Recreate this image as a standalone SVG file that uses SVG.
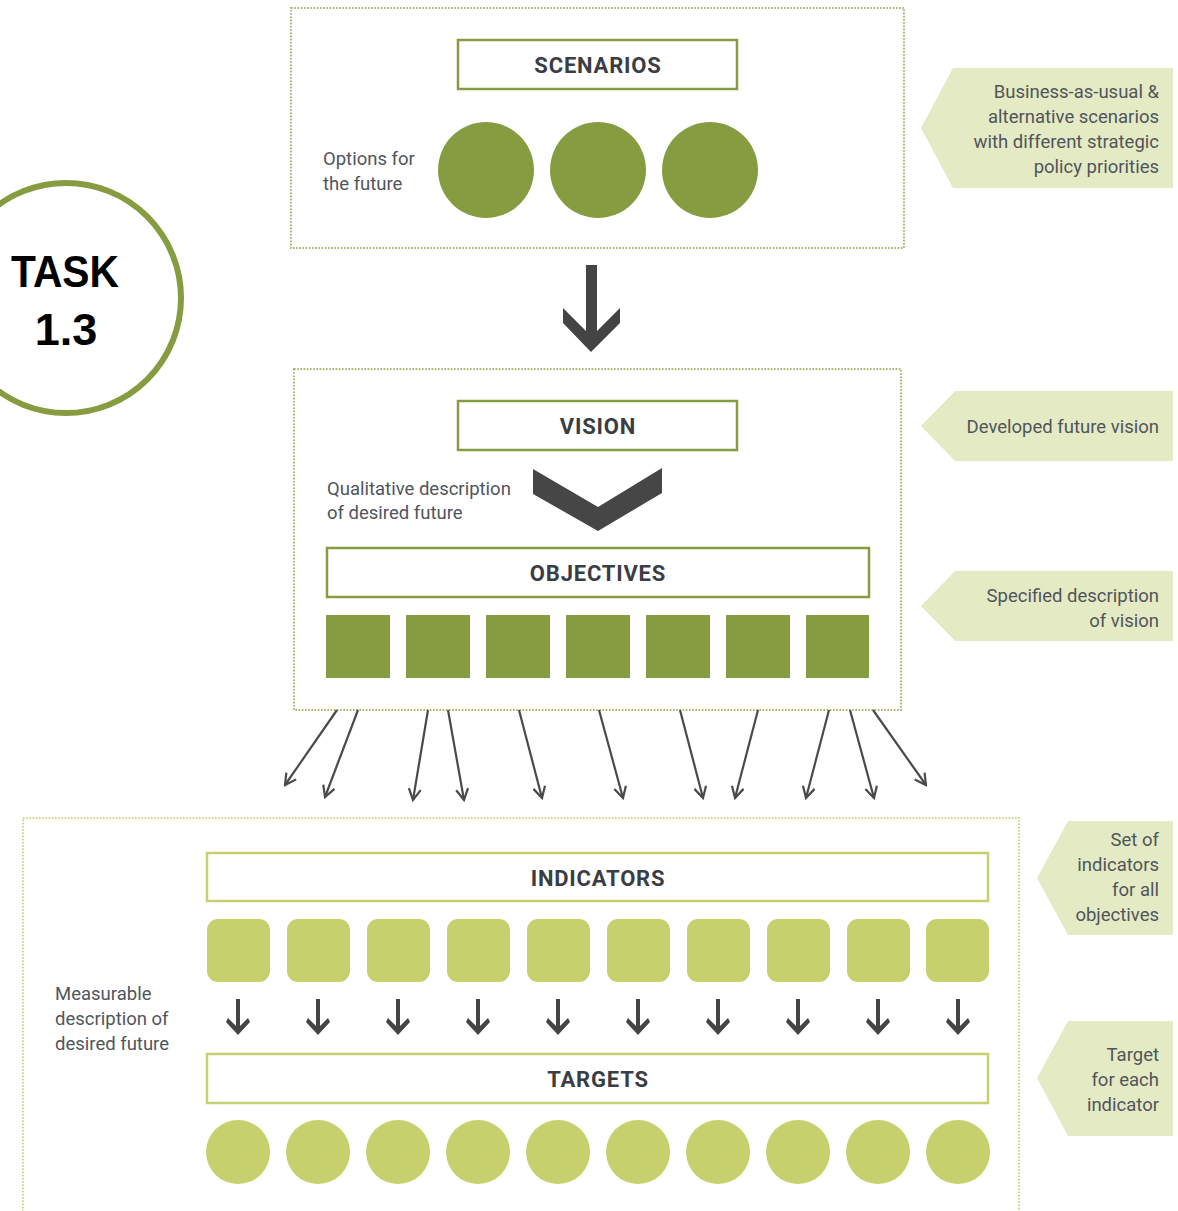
<svg xmlns="http://www.w3.org/2000/svg" width="1178" height="1211" viewBox="0 0 1178 1211">
<defs>
<style>
.frame{fill:none;stroke:#a7b46a;stroke-width:2;stroke-dasharray:1.6 1.6}
.frame2{fill:none;stroke:#cbd88a;stroke-width:2;stroke-dasharray:1.6 1.6}
.title{fill:#fff;stroke:#879b41;stroke-width:2.5}
.title2{fill:#fff;stroke:#c5d16e;stroke-width:2.5}
.tt{font-family:Roboto,"Liberation Sans",sans-serif;font-weight:bold;font-size:22px;fill:#3a3e44;text-anchor:middle;letter-spacing:0.8px}
.body{font-family:Roboto,"Liberation Sans",sans-serif;font-size:18.5px;fill:#50555b}
.r{text-anchor:end}
.dk{fill:#879b41}
.lt{fill:#c6d06c}
.call{fill:#e4eac4}
.fan{stroke:#4a4a4a;stroke-width:2.2;fill:none;marker-end:url(#vh)}
.dn{fill:#444}
</style>
<marker id="vh" viewBox="0 0 14 14" refX="12" refY="7" markerWidth="14" markerHeight="14" markerUnits="userSpaceOnUse" orient="auto">
<path d="M1,1 L12,7 L1,13" fill="none" stroke="#4a4a4a" stroke-width="2.2"/>
</marker>
<path id="sdn" d="M-2,0 L2,0 L2,27 L10,19 L12,23 L0,36 L-12,23 L-10,19 L-2,27 Z"/>
</defs>
<rect width="1178" height="1211" fill="#fff"/>

<g id="task">
<circle cx="66" cy="298" r="115" fill="#fff" stroke="#879b41" stroke-width="6"/>
<text x="65" y="287" font-family="'Liberation Sans',Arial,sans-serif" font-weight="bold" font-size="45" text-anchor="middle" fill="#000" textLength="108" lengthAdjust="spacingAndGlyphs">TASK</text>
<text x="66" y="345" font-family="'Liberation Sans',Arial,sans-serif" font-weight="bold" font-size="45" text-anchor="middle" fill="#000">1.3</text>
</g>

<g id="scenarios">
<rect class="frame" x="291" y="8" width="613" height="240"/>
<rect class="title" x="458" y="40" width="279" height="49"/>
<text class="tt" x="598" y="73">SCENARIOS</text>
<text class="body" x="323" y="165">Options for</text>
<text class="body" x="323" y="190">the future</text>
<circle class="dk" cx="486" cy="170" r="48"/>
<circle class="dk" cx="598" cy="170" r="48"/>
<circle class="dk" cx="710" cy="170" r="48"/>
</g>

<g id="callout-scenarios">
<polygon class="call" points="953,68 1173,68 1173,188 953,188 921,128"/>
<text class="body r" x="1159" y="98">Business-as-usual &amp;</text>
<text class="body r" x="1159" y="123">alternative scenarios</text>
<text class="body r" x="1159" y="148">with different strategic</text>
<text class="body r" x="1159" y="173">policy priorities</text>
</g>

<g id="vision">
<rect class="frame" x="294" y="369" width="607" height="341"/>
<rect class="title" x="458" y="401" width="279" height="49"/>
<text class="tt" x="598" y="434">VISION</text>
<text class="body" x="327" y="495">Qualitative description</text>
<text class="body" x="327" y="519">of desired future</text>
<polygon fill="#464646" points="533,469 598,507 662,468 662,493 598,531 533,494"/>
</g>

<g id="objectives">
<rect class="title" x="327" y="548" width="542" height="49"/>
<text class="tt" x="598" y="581">OBJECTIVES</text>
<rect class="dk" x="326" y="615" width="64" height="63"/>
<rect class="dk" x="406" y="615" width="64" height="63"/>
<rect class="dk" x="486" y="615" width="64" height="63"/>
<rect class="dk" x="566" y="615" width="64" height="63"/>
<rect class="dk" x="646" y="615" width="64" height="63"/>
<rect class="dk" x="726" y="615" width="64" height="63"/>
<rect class="dk" x="806" y="615" width="63" height="63"/>
</g>

<g id="callout-vision">
<polygon class="call" points="955,391 1173,391 1173,461 955,461 921,426"/>
<text class="body r" x="1159" y="433">Developed future vision</text>
</g>
<g id="callout-objectives">
<polygon class="call" points="955,571 1173,571 1173,641 955,641 921,606"/>
<text class="body r" x="1159" y="602">Specified description</text>
<text class="body r" x="1159" y="627">of vision</text>
</g>

<g id="connectors">
<polygon fill="#444" points="586,265 597,265 597,331 620,308 620,323 591,352 563,323 563,308 586,331"/>
<line class="fan" x1="337" y1="710" x2="285" y2="785"/>
<line class="fan" x1="358" y1="710" x2="325" y2="797"/>
<line class="fan" x1="428" y1="710" x2="413" y2="800"/>
<line class="fan" x1="448" y1="710" x2="464" y2="800"/>
<line class="fan" x1="519" y1="710" x2="542" y2="798"/>
<line class="fan" x1="599" y1="710" x2="623" y2="798"/>
<line class="fan" x1="680" y1="710" x2="703" y2="798"/>
<line class="fan" x1="758" y1="710" x2="735" y2="798"/>
<line class="fan" x1="829" y1="710" x2="806" y2="798"/>
<line class="fan" x1="850" y1="710" x2="874" y2="798"/>
<line class="fan" x1="873" y1="710" x2="926" y2="785"/>
<use href="#sdn" class="dn" x="238" y="999"/>
<use href="#sdn" class="dn" x="318" y="999"/>
<use href="#sdn" class="dn" x="398" y="999"/>
<use href="#sdn" class="dn" x="478" y="999"/>
<use href="#sdn" class="dn" x="558" y="999"/>
<use href="#sdn" class="dn" x="638" y="999"/>
<use href="#sdn" class="dn" x="718" y="999"/>
<use href="#sdn" class="dn" x="798" y="999"/>
<use href="#sdn" class="dn" x="878" y="999"/>
<use href="#sdn" class="dn" x="958" y="999"/>
</g>

<g id="measurable">
<rect class="frame2" x="23" y="818" width="996" height="420"/>
<text class="body" x="55" y="1000">Measurable</text>
<text class="body" x="55" y="1025">description of</text>
<text class="body" x="55" y="1050">desired future</text>
</g>

<g id="indicators">
<rect class="title2" x="207" y="853" width="781" height="48"/>
<text class="tt" x="598" y="886">INDICATORS</text>
<rect class="lt" x="207" y="919" width="63" height="63" rx="11"/>
<rect class="lt" x="287" y="919" width="63" height="63" rx="11"/>
<rect class="lt" x="367" y="919" width="63" height="63" rx="11"/>
<rect class="lt" x="447" y="919" width="63" height="63" rx="11"/>
<rect class="lt" x="527" y="919" width="63" height="63" rx="11"/>
<rect class="lt" x="607" y="919" width="63" height="63" rx="11"/>
<rect class="lt" x="687" y="919" width="63" height="63" rx="11"/>
<rect class="lt" x="767" y="919" width="63" height="63" rx="11"/>
<rect class="lt" x="847" y="919" width="63" height="63" rx="11"/>
<rect class="lt" x="926" y="919" width="63" height="63" rx="11"/>
</g>

<g id="targets">
<rect class="title2" x="207" y="1054" width="781" height="49"/>
<text class="tt" x="598" y="1087">TARGETS</text>
<circle class="lt" cx="238" cy="1152" r="32"/>
<circle class="lt" cx="318" cy="1152" r="32"/>
<circle class="lt" cx="398" cy="1152" r="32"/>
<circle class="lt" cx="478" cy="1152" r="32"/>
<circle class="lt" cx="558" cy="1152" r="32"/>
<circle class="lt" cx="638" cy="1152" r="32"/>
<circle class="lt" cx="718" cy="1152" r="32"/>
<circle class="lt" cx="798" cy="1152" r="32"/>
<circle class="lt" cx="878" cy="1152" r="32"/>
<circle class="lt" cx="958" cy="1152" r="32"/>
</g>

<g id="callout-indicators">
<polygon class="call" points="1068,821 1173,821 1173,935 1068,935 1037,878"/>
<text class="body r" x="1159" y="846">Set of</text>
<text class="body r" x="1159" y="871">indicators</text>
<text class="body r" x="1159" y="896">for all</text>
<text class="body r" x="1159" y="921">objectives</text>
</g>
<g id="callout-targets">
<polygon class="call" points="1068,1021 1173,1021 1173,1136 1068,1136 1037,1078"/>
<text class="body r" x="1159" y="1061">Target</text>
<text class="body r" x="1159" y="1086">for each</text>
<text class="body r" x="1159" y="1111">indicator</text>
</g>
</svg>
